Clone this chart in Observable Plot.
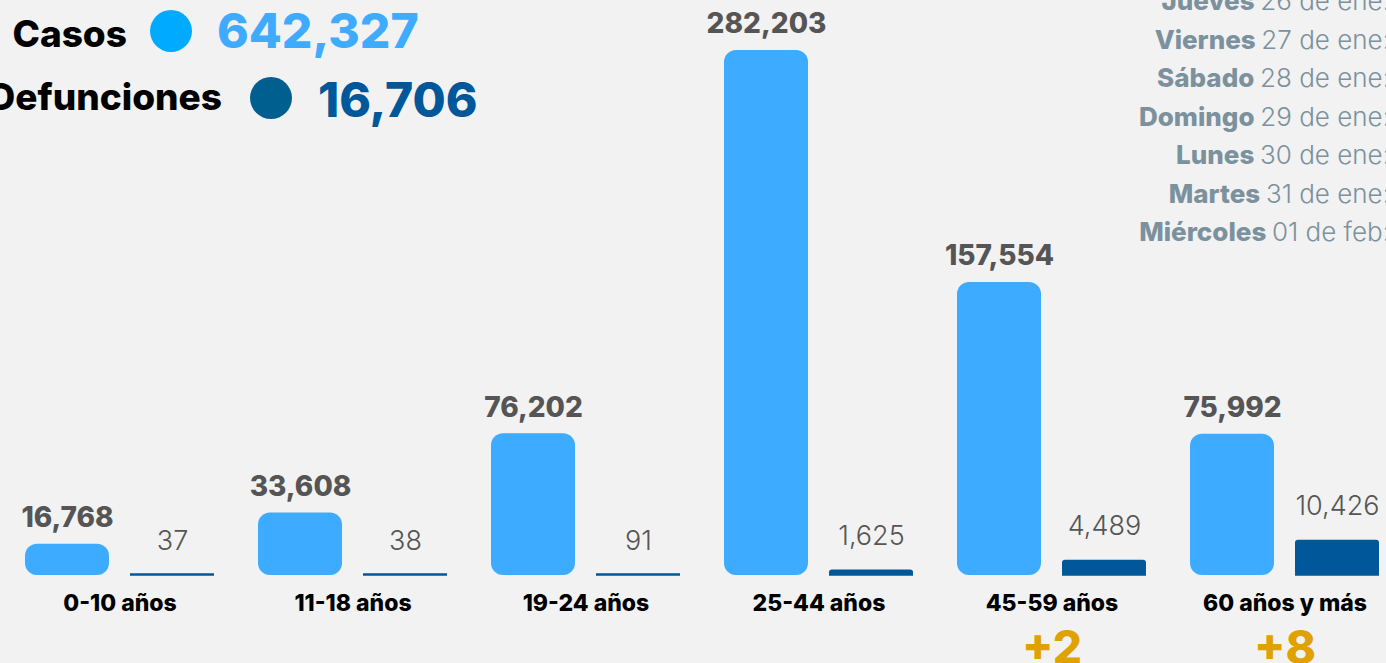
<!DOCTYPE html>
<html>
<head>
<meta charset="utf-8">
<script src="https://cdn.jsdelivr.net/npm/d3@7"></script>
<script src="https://cdn.jsdelivr.net/npm/@observablehq/plot@0.6"></script>
<style>
  html, body { margin: 0; padding: 0; background: #f2f2f2; }
  #wrap { position: relative; width: 1386px; height: 663px; overflow: hidden; background: #f2f2f2; font-family: Inter, "Open Sans", sans-serif; }
  #wrap svg { position: absolute; left: 0; top: 0; }
</style>
</head>
<body>
<div id="wrap"></div>
<script>
// ---- data ----
const groups = ["0-10 años", "11-18 años", "19-24 años", "25-44 años", "45-59 años", "60 años y más"];
const cases = [16768, 33608, 76202, 282203, 157554, 75992];
const deaths = [37, 38, 91, 1625, 4489, 10426];
const newDeaths = ["", "", "", "", "+2", "+8"];
const series = ["Casos", "Defunciones"];
const totals = [642327, 16706];
const days = ["Jueves", "Viernes", "Sábado", "Domingo", "Lunes", "Martes", "Miércoles"];
const dayDates = ["26 de ene:", "27 de ene:", "28 de ene:", "29 de ene:", "30 de ene:", "31 de ene:", "01 de feb:"];

// deaths are drawn on a magnified display scale relative to cases (as in the infographic)
const deathsDisplayRatio = 0.067 * d3.max(cases) / d3.max(deaths);

const caseRows = groups.map((g, i) => ({group: g, series: series[0], value: cases[i]}));
const deathRows = groups.map((g, i) => ({group: g, series: series[1], value: deaths[i], display: deaths[i] * deathsDisplayRatio}));
const groupRows = groups.map((g, i) => ({group: g, change: newDeaths[i]}));

const fmt = d3.format(",");
const caseColor = "#3dabff";
const deathColor = "#00579a";

const chart = Plot.plot({
  width: 1386,
  height: 663,
  marginTop: 50,
  marginBottom: 88,
  marginLeft: 22,
  marginRight: 4,
  style: {background: "transparent", fontFamily: "Inter, 'Open Sans', sans-serif"},
  fx: {domain: groups, paddingInner: 0.188, paddingOuter: 0, axis: null},
  x: {domain: series, paddingInner: 0.2, paddingOuter: 0, axis: null},
  y: {domain: [0, d3.max(cases)], axis: null},
  marks: [
    Plot.tickY(deathRows, {fx: "group", x: "series", y: 0, dy: -1, stroke: deathColor, strokeWidth: 2.5}),
    Plot.barY(caseRows, {fx: "group", x: "series", y: "value", fill: caseColor, rx: 12}),
    Plot.barY(deathRows, {fx: "group", x: "series", y: "display", fill: deathColor, rx: 3}),
    Plot.text(caseRows, {fx: "group", x: "series", y: "value", text: d => fmt(d.value), dy: -26, fontSize: 28, fontWeight: 800, fill: "#555"}),
    Plot.text(deathRows, {fx: "group", x: "series", y: "display", text: d => fmt(d.value), dy: -34, fontSize: 27, fontWeight: 300, fill: "#555"}),
    Plot.text(groupRows, {fx: "group", text: "group", frameAnchor: "bottom", dy: 35, fontSize: 23, fontWeight: 800, fill: "#000"}),
    Plot.text(groupRows, {fx: "group", text: "change", frameAnchor: "bottom", dy: 88, fontSize: 46, fontWeight: 800, fill: "#e0a200"})
  ]
});
document.getElementById("wrap").appendChild(chart);

// ---- legend & date list overlay ----
const ov = d3.select("#wrap").append("svg").attr("width", 1386).attr("height", 663)
  .style("font-family", "Inter, 'Open Sans', sans-serif");

const legendRows = [
  {label: series[0], total: totals[0], dot: "#00aaff", color: "#3fabff", labelEnd: 127, base: 47, cx: 171, cy: 31, vx: 217, vbase: 48},
  {label: series[1], total: totals[1], dot: "#005f8f", color: "#00579a", labelEnd: 222, base: 110, cx: 271, cy: 98, vx: 318, vbase: 117}
];
legendRows.forEach(r => {
  ov.append("text").attr("x", r.labelEnd).attr("y", r.base).attr("text-anchor", "end")
    .attr("font-size", 37).attr("font-weight", 800).attr("fill", "#000").text(r.label);
  ov.append("circle").attr("cx", r.cx).attr("cy", r.cy).attr("r", 21).attr("fill", r.dot);
  ov.append("text").attr("x", r.vx).attr("y", r.vbase)
    .attr("font-size", 48).attr("font-weight", 800).attr("fill", r.color).text(fmt(r.total));
});

days.forEach((d, i) => {
  const t = ov.append("text").attr("x", 1390).attr("y", 10 + i * 38.5).attr("text-anchor", "end")
    .attr("font-size", 26).attr("fill", "#7b919d");
  t.append("tspan").attr("font-weight", 800).text(d + " ");
  t.append("tspan").attr("font-weight", 300).text(dayDates[i]);
});
</script>
</body>
</html>
